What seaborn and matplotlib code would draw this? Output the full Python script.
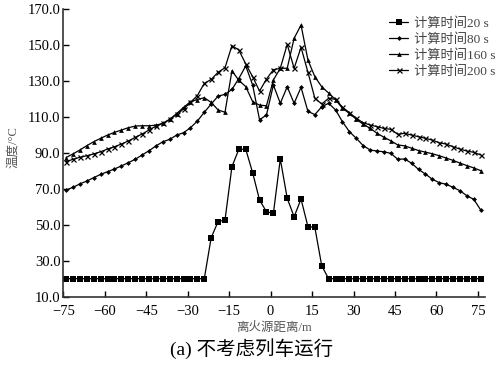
import numpy as np
import pandas as pd
import matplotlib
matplotlib.use("Agg")
import matplotlib.pyplot as plt
import seaborn as sns

# distance from fire source (m)
distance = [-74.0, -71.5, -69.0, -66.5, -64.0, -61.5, -59.0, -56.5, -54.0, -51.5,
            -49.0, -46.5, -44.0, -41.5, -39.0, -36.5, -34.0, -31.5, -29.0, -26.5,
            -24.0, -21.5, -19.0, -16.5, -14.0, -11.5, -9.0, -6.5, -4.0, -1.5,
            1.0, 3.5, 6.0, 8.5, 11.0, 13.5, 16.0, 18.5, 21.0, 23.5,
            26.0, 28.5, 31.0, 33.5, 36.0, 38.5, 41.0, 43.5, 46.0, 48.5,
            51.0, 53.5, 56.0, 58.5, 61.0, 63.5, 66.0, 68.5, 71.0, 73.5, 76.0]

t20 = [20, 20, 20, 20, 20, 20, 20, 20, 20, 20,
       20, 20, 20, 20, 20, 20, 20, 20, 20, 20,
       20, 42.9, 51.8, 52.7, 82.4, 92.1, 92.1, 79.0, 63.8, 57.3,
       56.4, 86.7, 64.8, 54.5, 64.4, 49.0, 48.6, 27.1, 20, 20,
       20, 20, 20, 20, 20, 20, 20, 20, 20, 20,
       20, 20, 20, 20, 20, 20, 20, 20, 20, 20, 20]

t80 = [69.4, 70.9, 72.8, 74.4, 76.3, 78.1, 79.6, 81.1, 82.8, 84.6,
       86.5, 88.9, 91.3, 93.9, 96.3, 97.6, 100.0, 101.3, 104.1, 107.8,
       112.7, 117.3, 121.7, 122.7, 125.4, 131.5, 138.5, 127.9, 108.5, 111.2,
       127.9, 117.7, 126.9, 117.7, 126.6, 113.2, 111.4, 115.8, 117.7, 114.0,
       107.4, 101.9, 98.2, 94.1, 91.7, 91.1, 90.7, 89.8, 86.5, 86.7,
       84.3, 80.9, 78.3, 75.4, 73.5, 72.6, 70.9, 69.0, 66.2, 64.2, 58.3]

t160 = [87.5, 89.5, 91.7, 94.1, 96.3, 98.2, 100.0, 101.5, 102.8, 104.1,
        105.0, 105.2, 105.2, 105.5, 106.5, 108.7, 112.0, 115.4, 118.6, 119.8,
        120.8, 118.2, 114.0, 112.7, 135.8, 130.5, 127.0, 118.6, 116.7, 116.3,
        130.7, 137.2, 137.2, 153.9, 161.3, 141.8, 132.5, 126.9, 123.4, 119.7,
        114.9, 112.1, 108.8, 106.0, 103.8, 101.0, 98.8, 96.8, 94.5, 94.0,
        92.7, 91.4, 90.5, 89.6, 88.5, 87.2, 85.9, 84.4, 83.0, 81.7, 80.2]

t200 = [85.2, 86.5, 87.6, 88.5, 89.5, 90.7, 92.2, 93.5, 95.0, 96.7,
        98.7, 100.6, 102.8, 105.0, 106.5, 108.8, 111.5, 114.5, 118.2, 122.0,
        128.8, 131.0, 135.0, 137.5, 149.8, 147.4, 139.6, 132.5, 124.5, 131.2,
        136.4, 137.2, 150.5, 137.2, 148.9, 135.0, 120.5, 117.3, 120.5, 119.9,
        115.5, 112.5, 109.3, 106.9, 105.6, 104.7, 103.7, 103.2, 100.4, 101.0,
        100.0, 99.1, 98.2, 97.2, 95.7, 95.0, 93.5, 92.2, 91.1, 90.4, 88.9]

series_labels = ["计算时间20 s", "计算时间80 s", "计算时间160 s", "计算时间200 s"]
x_ticks = [-75, -60, -45, -30, -15, 0, 15, 30, 45, 60, 75]
y_ticks = [10, 30, 50, 70, 90, 110, 130, 150, 170]
x_label = "离火源距离/m"
y_label = "温度/°C"
caption = "(a) 不考虑列车运行"

sns.set_theme(style="white")
plt.rcParams["font.family"] = ["Liberation Serif", "Noto Sans CJK SC", "DejaVu Sans"]
plt.rcParams["axes.unicode_minus"] = True

fig = plt.figure(figsize=(5.04, 3.76), dpi=100)
ax = fig.add_axes([0.1256, 0.211, 0.8364, 0.764])

styles = [
    dict(marker="s", markersize=4.0, markeredgewidth=0.0),
    dict(marker="D", markersize=2.5, markeredgewidth=0.0),
    dict(marker="^", markersize=3.4, markeredgewidth=0.0),
    dict(marker="x", markersize=3.6, markeredgewidth=0.9),
]
for vals, lab, st in zip([t20, t80, t160, t200], series_labels, styles):
    df = pd.DataFrame({"x": distance, "y": vals})
    sns.lineplot(data=df, x="x", y="y", ax=ax, color="black", linewidth=0.9,
                 label=lab, markeredgecolor="black", markerfacecolor="black", **st)

ax.set_xlim(-75, 77.5)
ax.set_ylim(10, 170)
ax.set_xticks(x_ticks)
ax.set_yticks(y_ticks)
ax.set_yticklabels([f"{v:.1f}" for v in y_ticks])
ax.tick_params(axis="both", direction="in", length=4, width=1.0, labelsize=10.5,
               colors="black", left=True, bottom=True)
ax.tick_params(axis="x", pad=6)
ax.tick_params(axis="y", pad=2)
for s in ["top", "right"]:
    ax.spines[s].set_visible(False)
for s in ["left", "bottom"]:
    ax.spines[s].set_color("#333333")
    ax.spines[s].set_linewidth(1.2)

ax.set_xlabel(x_label, fontsize=9, color="#555555", labelpad=3,
              family=["Liberation Serif", "Noto Sans CJK SC"])
ax.set_ylabel(y_label, fontsize=9, color="#555555",
              family=["Liberation Serif", "Noto Sans CJK SC"])
ax.yaxis.set_label_coords(-0.105, 0.52)

leg = ax.legend(loc="upper right", bbox_to_anchor=(1.045, 1.0), frameon=False,
                fontsize=9.5, handlelength=1.4, handletextpad=0.5,
                labelspacing=0.25, borderaxespad=0.2)
for t in leg.get_texts():
    t.set_color("#444444")

fig.text(0.5, 0.073, caption, ha="center", va="center", fontsize=14,
         color="black", family=["Liberation Serif", "Noto Sans CJK SC"])

fig.savefig("out.png", dpi=100)
